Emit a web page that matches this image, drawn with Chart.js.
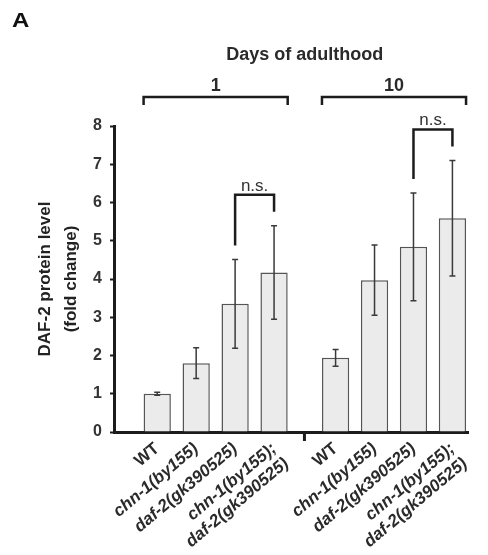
<!DOCTYPE html>
<html>
<head>
<meta charset="utf-8">
<script src="https://cdn.jsdelivr.net/npm/chart.js@4.4.0/dist/chart.umd.min.js"></script>
<style>
  html, body { margin: 0; padding: 0; background: #fff; }
  #wrap { width: 488px; height: 555px; }
</style>
</head>
<body>
<div id="wrap"><canvas id="chart"></canvas></div>
<script>
// genotypes shown under each bar (same order in both day groups)
const genotypes = ["WT", "chn-1(by155)", "daf-2(gk390525)", ["chn-1(by155);", "daf-2(gk390525)"]];
// days of adulthood
const days = ["1", "10"];
// DAF-2 protein level (fold change), mean and error
const day1Means = [1.0, 1.80, 3.35, 4.17];
const day1Errors = [0.04, 0.40, 1.16, 1.22];
const day10Means = [1.94, 3.97, 4.84, 5.59];
const day10Errors = [0.22, 0.92, 1.41, 1.51];
// significance brackets: which bars are compared in each day group
const comparisons = [
  { day: 0, from: 2, to: 3, text: "n.s." },
  { day: 1, from: 2, to: 3, text: "n.s." },
];
const yTicks = [0, 1, 2, 3, 4, 5, 6, 7, 8];

const FONT = "'Liberation Sans', Arial, Helvetica, sans-serif";
const INK = "#1c1c1c";

const toPoints = (means) => means.map((v, i) => ({ x: i + 1, y: v }));

//draws error bars, brackets, headings
const annotations = {
  id: "annotations",
  afterDatasetsDraw(chart) {
    const ctx = chart.ctx;
    const yScale = chart.scales.y;
    const errTops = [];
    ctx.save();
    //error bars
    ctx.strokeStyle = "#3a3a3a";
    ctx.lineWidth = 1.5;
    chart.data.datasets.forEach((ds, d) => {
      const meta = chart.getDatasetMeta(d);
      errTops[d] = [];
      meta.data.forEach((bar, i) => {
        const v = ds.data[i].y;
        const e = ds.errors[i];
        const top = yScale.getPixelForValue(v + e);
        const bottom = yScale.getPixelForValue(v - e);
        errTops[d][i] = top;
        ctx.beginPath();
        ctx.moveTo(bar.x, top);
        ctx.lineTo(bar.x, bottom);
        ctx.moveTo(bar.x - 3, top);
        ctx.lineTo(bar.x + 3, top);
        ctx.moveTo(bar.x - 3, bottom);
        ctx.lineTo(bar.x + 3, bottom);
        ctx.stroke();
      });
    });
    //n.s. brackets
    ctx.strokeStyle = INK;
    ctx.lineWidth = 2.5;
    ctx.fillStyle = "#333";
    ctx.font = "17px " + FONT;
    ctx.textAlign = "center";
    ctx.textBaseline = "alphabetic";
    comparisons.forEach((c) => {
      const bars = chart.getDatasetMeta(c.day).data;
      const a = bars[c.from], b = bars[c.to];
      const legA = errTops[c.day][c.from] - 14;
      const legB = errTops[c.day][c.to] - 14;
      const line = Math.min(legA, legB) - 17;
      ctx.beginPath();
      ctx.moveTo(a.x, legA);
      ctx.lineTo(a.x, line);
      ctx.lineTo(b.x, line);
      ctx.lineTo(b.x, legB);
      ctx.stroke();
      ctx.fillText(c.text, (a.x + b.x) / 2, line - 4);
    });
    ctx.restore();
  },
  afterDraw(chart) {
    const ctx = chart.ctx;
    const area = chart.chartArea;
    ctx.save();
    ctx.strokeStyle = INK;
    ctx.lineWidth = 2.5;
    ctx.fillStyle = "#2a2a2a";
    ctx.textAlign = "center";
    ctx.textBaseline = "middle";
    ctx.font = "bold 18px " + FONT;
    let spanLeft = Infinity, spanRight = -Infinity;
    days.forEach((day, d) => {
      const bars = chart.getDatasetMeta(d).data;
      const left = bars[0].x - bars[0].width / 2;
      const last = bars[bars.length - 1];
      const right = last.x + last.width / 2;
      spanLeft = Math.min(spanLeft, left);
      spanRight = Math.max(spanRight, right);
      ctx.beginPath();
      ctx.moveTo(left, 105);
      ctx.lineTo(left, 97);
      ctx.lineTo(right, 97);
      ctx.lineTo(right, 105);
      ctx.stroke();
      ctx.fillText(day, (left + right) / 2, 86);
    });
    ctx.fillText("Days of adulthood", (spanLeft + spanRight) / 2, 55);
    //panel letter (wide face in the original)
    ctx.save();
    ctx.translate(12, 27);
    ctx.scale(1.2, 1);
    ctx.textAlign = "left";
    ctx.textBaseline = "alphabetic";
    ctx.font = "bold 20px " + FONT;
    ctx.fillStyle = "#111";
    ctx.fillText("A", 0, 0);
    ctx.restore();
    //tick between the two day groups
    const split = chart.scales.x10.left;
    ctx.lineWidth = 3;
    ctx.beginPath();
    ctx.moveTo(split, area.bottom);
    ctx.lineTo(split, area.bottom + 9);
    ctx.stroke();
    ctx.restore();
  },
};

const xAxis = (min, max, weight) => ({
  type: "linear",
  position: "bottom",
  stack: "days",
  stackWeight: weight,
  min: min,
  max: max,
  offset: false,
  grid: { display: false, drawTicks: false },
  border: { display: true, color: INK, width: 3 },
  afterBuildTicks: (scale) => {
    scale.ticks = genotypes.map((_, i) => ({ value: i + 1 }));
  },
  afterFit: (scale) => {
    scale.height = 123;
    scale.paddingLeft = 0;
    scale.paddingRight = 0;
  },
  ticks: {
    autoSkip: false,
    minRotation: 40,
    maxRotation: 40,
    padding: 7,
    color: "#2a2a2a",
    font: (c) => ({
      family: FONT,
      size: 17,
      weight: "bold",
      style: c.index === 0 ? "normal" : "italic",
      lineHeight: 1.15,
    }),
    callback: (value) => genotypes[value - 1],
  },
});

const barStyle = {
  backgroundColor: "#ebebeb",
  borderColor: "#555",
  borderWidth: 1.5,
  grouped: false,
  categoryPercentage: 1,
  barPercentage: 0.7,
};

new Chart(document.getElementById("chart"), {
  type: "bar",
  plugins: [annotations],
  data: {
    datasets: [
      {
        label: days[0],
        xAxisID: "x1",
        data: toPoints(day1Means),
        errors: day1Errors,
        ...barStyle,
      },
      {
        label: days[1],
        xAxisID: "x10",
        data: toPoints(day10Means),
        errors: day10Errors,
        ...barStyle,
      },
    ],
  },
  options: {
    responsive: true,
    maintainAspectRatio: false,
    animation: false,
    layout: { padding: { top: 126, right: 20, bottom: 0, left: 0 } },
    plugins: {
      legend: { display: false },
      tooltip: { enabled: false },
    },
    scales: {
      x1: xAxis(-0.11, 4.78, 4.89),
      x10: xAxis(0.2, 4.4, 4.2),
      y: {
        min: 0,
        max: 8,
        afterBuildTicks: (scale) => {
          scale.ticks = yTicks.map((v) => ({ value: v }));
        },
        afterFit: (scale) => {
          scale.width = 114;
        },
        grid: {
          drawOnChartArea: false,
          tickLength: 4,
          tickWidth: 2,
          tickColor: INK,
        },
        border: { display: true, color: INK, width: 3 },
        ticks: {
          padding: 8,
          color: "#333",
          font: { family: FONT, size: 16, weight: "bold" },
        },
        title: {
          display: true,
          text: ["DAF-2 protein level", "(fold change)"],
          color: "#222",
          padding: { top: 33, bottom: 0 },
          font: { family: FONT, size: 17, weight: "bold", lineHeight: 1.5 },
        },
      },
    },
  },
});
</script>
</body>
</html>
